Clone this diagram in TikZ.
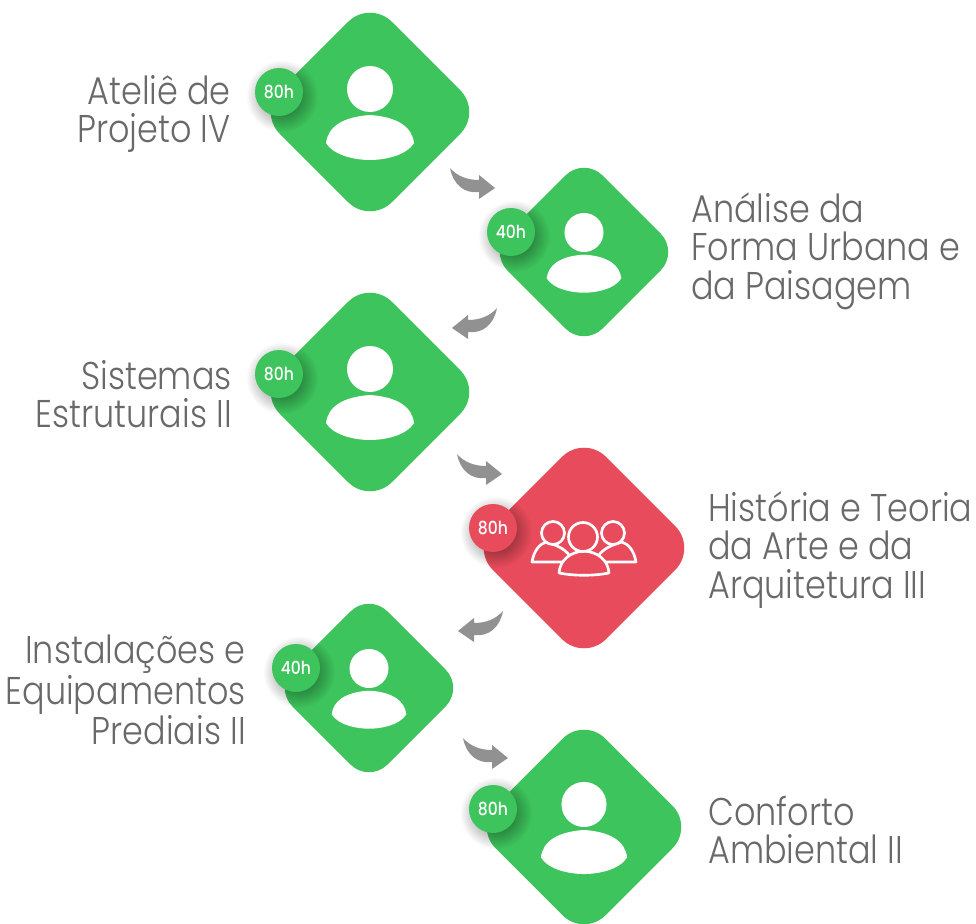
\documentclass[tikz,border=0pt]{standalone}
\usepackage{fontspec}
\setmainfont{Poppins}[UprightFont=* Light,BoldFont=* Medium,FakeStretch=0.865]
\usetikzlibrary{fadings}
\definecolor{tilegreen}{RGB}{61, 196, 92}
\definecolor{tilered}{RGB}{232, 75, 91}
\definecolor{pfeilgrau}{RGB}{145,145,145}
\definecolor{textgrau}{RGB}{105,105,105}
\tikzfading[name=softshadow, inner color=transparent!0, outer color=transparent!100]
\tikzset{
  tile/.style={rectangle, rotate=45, inner sep=0pt},
  badge/.style={circle, minimum size=36pt, inner sep=0pt, text=white, font=\bfseries\fontsize{13.5}{14}\selectfont},
  badgeshadow/.style={fill=black, opacity=0.6, path fading=softshadow},
  label/.style={text=textgrau, font=\fontsize{29}{29}\selectfont, inner sep=0pt},
  swoosh/.style={fill=pfeilgrau, draw=none},
  people/.style={draw=white, line width=2pt, fill=tilered, line join=round},
}

\begin{document}
\begin{tikzpicture}[x=0.75pt,y=-0.75pt]

    \useasboundingbox (0,0) rectangle (976,924);

    % green tiles: name / centre / size / badge centre / hours
    \foreach \n/\px/\py/\e/\bx/\by/\h in {d1/370/112/99/279/92/80h, d2/584/252/84/511/232/40h, d3/370/392/99/279/374/80h, d5/369/688/84/296/668/40h, d6/584/827/97/493/809/80h}{
        \node[tile, fill=tilegreen, minimum size=1.2*\e pt, rounded corners=0.233*\e pt] (\n) at (\px,\py) {};
        \begin{scope}[shift={(\n)}, scale=\e/99]
            \fill[white] (-44,31) .. controls (-42,15) and (-28,5) .. (0,3) .. controls (28,5) and (42,15) .. (44,31) .. controls (36,44) and (14,48) .. (0,48) .. controls (-14,48) and (-36,44) .. (-44,31);
            \fill[tilegreen] (0,-23) circle (26);
            \fill[white] (0,-23) circle (23);
        \end{scope}
        \fill[badgeshadow] (\bx+3,\by+4) circle (36);
        \node[badge, fill=tilegreen] (b\n) at (\bx,\by) {\h};
    }

    % red tile
    \node[tile, fill=tilered, minimum size=1.2*100 pt, rounded corners=23.3pt] (d4) at (584,548) {};
    \begin{scope}[shift={(d4)}]
        \draw[people] (-52,14) .. controls (-50,2) and (-44,-4) .. (-38,-6) .. controls (-28,-3) and (-20,0) .. (-14,8) -- (-18,14) -- cycle;
        \draw[people] (52,14) .. controls (50,2) and (44,-4) .. (38,-6) .. controls (28,-3) and (20,0) .. (14,8) -- (18,14) -- cycle;
        \draw[people] (-31,-15) circle (11.5);
        \draw[people] (29,-15) circle (11.5);
        \draw[people] (-25,25) .. controls (-24,12) and (-14,4) .. (0,3) .. controls (14,4) and (24,12) .. (25,25) .. controls (10,28) and (-10,28) .. (-25,25) -- cycle;
        \draw[people] (-1,-11) circle (14.5);
    \end{scope}
    \fill[badgeshadow] (496,532) circle (36);
    \node[badge, fill=tilered] (bd4) at (493,528) {80h};

    % curved arrows between the tiles
    \coordinate (a1) at (450,168);
    \coordinate (a2) at (497,308);
    \coordinate (a3) at (457,454);
    \coordinate (a4) at (503,611);
    \coordinate (a5) at (463,738);
    \foreach \a/\dir in {a1/1, a2/-1, a3/1, a4/-1, a5/1}{
        \fill[swoosh, shift={(\a)}, xscale=\dir] (0,0) .. controls (7,8) and (17,12) .. (29,12) -- (29,7) -- (45,20) -- (29,31) -- (29,24) .. controls (14,26) and (3,16) .. (0,0) -- cycle;
    }

    % labels
    \node[label, anchor=east, align=right] (t1) at (231,114) {Ateliê de\\Projeto IV};
    \node[label, anchor=west, align=left] (t2) at (691,251) {Análise da\\Forma Urbana e\\da Paisagem};
    \node[label, anchor=east, align=right] (t3) at (232,394) {Sistemas\\Estruturais II};
    \node[label, anchor=west, align=left] (t4) at (708,550) {História e Teoria\\da Arte e da\\Arquitetura III};
    \node[label, anchor=east, align=right] (t5) at (246,690) {Instalações e\\Equipamentos\\Prediais II};
    \node[label, anchor=west, align=left] (t6) at (708,830) {Conforto\\Ambiental II};

\end{tikzpicture}
\end{document}
